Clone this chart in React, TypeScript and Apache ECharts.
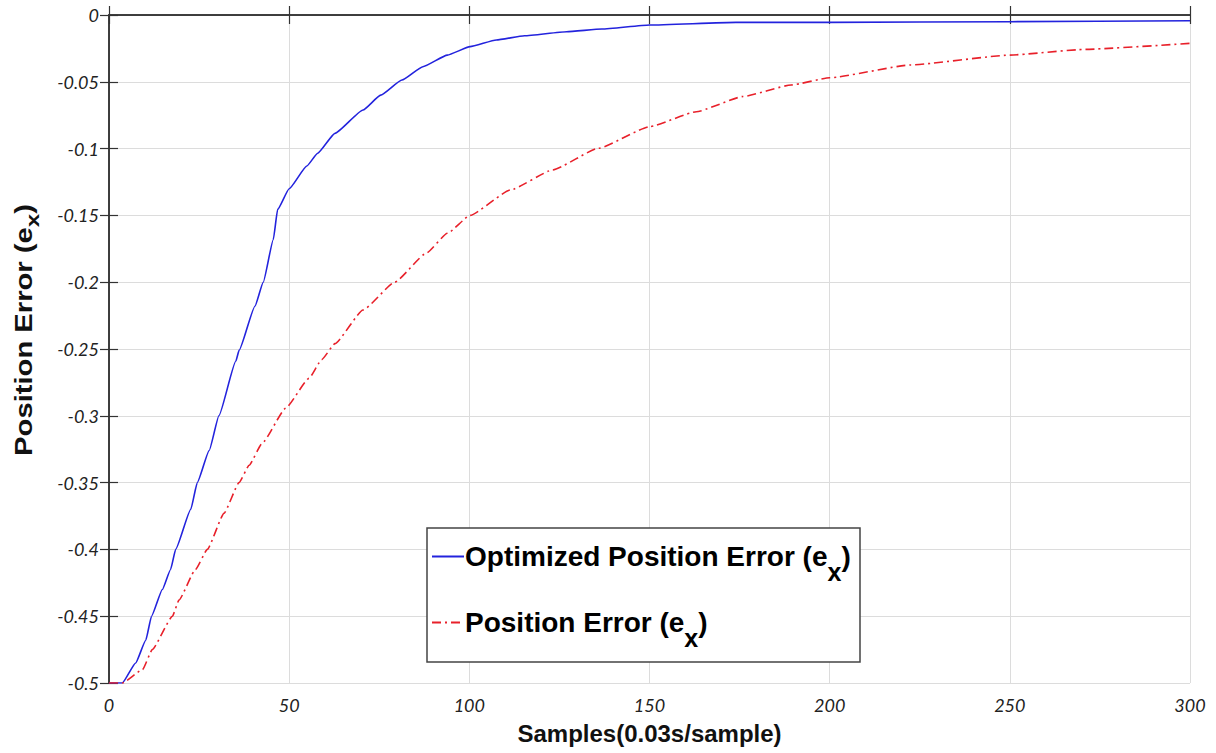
import React, { useEffect, useRef } from "react";
import * as echarts from "echarts";

const optX = [0, 2, 3.7, 7.4, 10.2, 11.8, 14.8, 17.1, 18.5, 22.7, 24.5, 27.8, 30.5, 35.2, 36.1, 40.5, 42.8, 45.6, 46.8, 50, 54.9, 57.9, 62.7, 70.5, 75.4, 81.3, 87.1, 93.9, 100.2, 107.5, 115.3, 127, 136.8, 150, 174, 200, 250, 300];
const optY = [-0.5, -0.5, -0.5, -0.485, -0.468, -0.45, -0.43, -0.415, -0.4, -0.37, -0.35, -0.326, -0.3, -0.259, -0.251, -0.218, -0.2, -0.168, -0.1455, -0.13, -0.113, -0.1035, -0.0886, -0.0711, -0.06, -0.0487, -0.0387, -0.03, -0.0237, -0.0187, -0.0155, -0.0125, -0.0105, -0.0075, -0.0055, -0.0055, -0.005, -0.0043];

const errX = [0, 3.7, 9.3, 12, 17.6, 19.4, 24, 27.3, 31.9, 36.1, 38.9, 42.5, 49, 55.5, 59, 62.7, 70.5, 79.3, 88, 93.9, 100.2, 111.4, 123.1, 135.8, 150, 163, 176, 189.3, 200, 222.5, 250, 271, 300];
const errY = [-0.5, -0.5, -0.49, -0.475, -0.45, -0.438, -0.415, -0.4, -0.373, -0.35, -0.337, -0.3206, -0.2944, -0.272, -0.258, -0.246, -0.2208, -0.2, -0.1784, -0.1634, -0.15, -0.131, -0.116, -0.0998, -0.0836, -0.0724, -0.061, -0.0524, -0.047, -0.0374, -0.03, -0.0257, -0.0212];

const seriesNames = ["Optimized Position Error (e_x)", "Position Error (e_x)"];
const xName = "Samples(0.03s/sample)";
const yName = "Position Error (e";

const boldFont = "Arial, 'Liberation Sans', sans-serif";
const tickFont = { fontFamily: "Lato, 'Open Sans', sans-serif", fontStyle: "italic" as const, fontSize: 18, color: "#222" };

export default function App() {
  const ref = useRef<HTMLDivElement>(null);
  useEffect(() => {
    if (!ref.current) return;
    const chart = echarts.init(ref.current, undefined, { renderer: "svg" });
    const pair = (xs: number[], ys: number[]) => xs.map((x, i) => [x, ys[i]]);
    const frameLine = { show: true, lineStyle: { color: "#333", width: 1.5 } };
    const innerTick = { show: true, inside: true, length: 9, lineStyle: { color: "#333", width: 1.2 } };
    chart.setOption({
      animation: false,
      backgroundColor: "#fff",
      grid: { left: 109, top: 15, right: 26, bottom: 70, containLabel: false },
      xAxis: [
        {
          type: "value", min: 0, max: 300, interval: 50, position: "bottom",
          axisLine: frameLine, axisTick: innerTick,
          axisLabel: { ...tickFont, margin: 13 },
          splitLine: { show: true, lineStyle: { color: "#dcdcdc", width: 1 } },
          name: xName, nameLocation: "middle", nameGap: 38,
          nameTextStyle: { fontFamily: boldFont, fontWeight: "bold", fontSize: 24, color: "#111" },
        },
        {
          type: "value", min: 0, max: 300, interval: 50, position: "top",
          axisLine: frameLine, axisTick: innerTick, axisLabel: { show: false }, splitLine: { show: false },
        },
      ],
      yAxis: [
        {
          type: "value", min: -0.5, max: 0, interval: 0.05, position: "left",
          axisLine: frameLine, axisTick: innerTick,
          axisLabel: { ...tickFont, margin: 10, formatter: (v: number) => String(Math.round(v * 100) / 100) },
          splitLine: { show: true, lineStyle: { color: "#dcdcdc", width: 1 } },
        },
        {
          type: "value", min: -0.5, max: 0, interval: 0.05, position: "right",
          axisLine: frameLine, axisTick: innerTick, axisLabel: { show: false }, splitLine: { show: false },
        },
      ],
      graphic: [
        {
          type: "text", z: 5, x: 24, y: 330, rotation: Math.PI / 2, scaleX: 1.27,
          style: {
            text: "{a|" + yName + "}{s|x}{a|)}", align: "center", verticalAlign: "middle",
            rich: {
              a: { fontFamily: boldFont, fontWeight: "bold", fontSize: 23, fill: "#111" },
              s: { fontFamily: boldFont, fontWeight: "bold", fontSize: 19, fill: "#111", padding: [16, 0, 0, 0] },
            },
          },
        },
        {
          type: "rect", z: 5, shape: { x: 427, y: 528, width: 433, height: 134 },
          style: { fill: "#fff", stroke: "#444", lineWidth: 1.5 },
        },
      ],
      legend: {
        z: 10, orient: "vertical", left: 431, top: 529, padding: 0, itemGap: 11,
        itemWidth: 32, itemHeight: 14,
        itemStyle: { opacity: 0 },
        data: seriesNames,
        formatter: (name: string) => {
          const base = name.replace("_x)", "");
          return "{a|" + base + "}{s|x}{a|)}";
        },
        textStyle: {
          padding: [0, 0, 0, -4],
          rich: {
            a: { fontFamily: boldFont, fontWeight: "bold", fontSize: 28, color: "#000", lineHeight: 40 },
            s: { fontFamily: boldFont, fontWeight: "bold", fontSize: 25, color: "#000", lineHeight: 40, padding: [30, 0, 0, 0] },
          },
        },
      },
      series: [
        {
          name: seriesNames[0], type: "line", data: pair(optX, optY), showSymbol: false, symbol: "none",
          smooth: 0.15, smoothMonotone: "x",
          lineStyle: { color: "#2323dd", width: 1.6 }, itemStyle: { color: "#2323dd" },
        },
        {
          name: seriesNames[1], type: "line", data: pair(errX, errY), showSymbol: false, symbol: "none",
          smooth: 0.15, smoothMonotone: "x",
          lineStyle: { color: "#e8202a", width: 1.6, type: [9, 4, 2, 4] }, itemStyle: { color: "#e8202a" },
        },
      ],
    });
    return () => chart.dispose();
  }, []);
  return <div ref={ref} style={{ position: "fixed", left: 0, top: 0, width: 1216, height: 753 }} />;
}
